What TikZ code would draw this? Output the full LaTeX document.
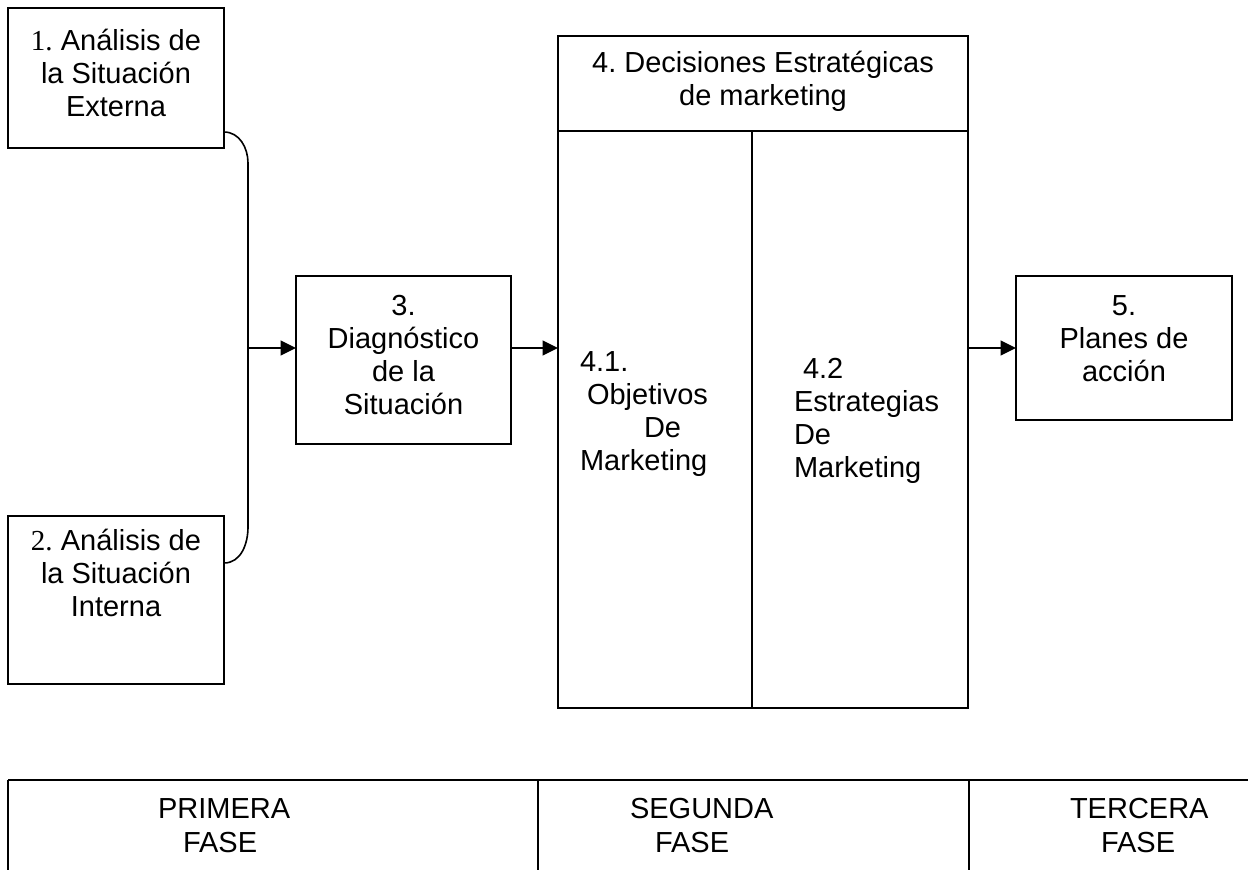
\documentclass[tikz,border=0pt]{standalone}
\usepackage{fontspec}
\setmainfont{Liberation Sans}
\newfontfamily\tnr{Liberation Serif}
\usetikzlibrary{arrows.meta}
\newcommand\fstr{\rule{0pt}{22.5pt}}
\begin{document}
\begin{tikzpicture}[x=0.75pt,y=-0.75pt,
  box/.style={draw, line width=1.2pt, rectangle, inner sep=0pt, outer sep=0pt},
  txt/.style={inner sep=0pt, outer sep=0pt, font=\fontsize{21.75pt}{24.75pt}\selectfont\frenchspacing},
  ctr/.style={txt, anchor=north, align=center},
  lft/.style={txt, anchor=north west, align=left},
  phase/.style={lft, font=\fontsize{21.75pt}{25.5pt}\selectfont},
  conn/.style={line width=1.2pt},
  arr/.style={conn, -{Triangle[length=11.5pt,width=11pt]}}]
\useasboundingbox (0,0) rectangle (1248,870);

% boxes
\node[box, minimum width=162pt, minimum height=105pt] (b1) at (116,78) {};
\node[box, minimum width=162pt, minimum height=126pt] (b2) at (116,600) {};
\node[box, minimum width=161.25pt, minimum height=126pt] (b3) at (403.5,360) {};
\node[box, minimum width=307.5pt, minimum height=71.25pt] (b4h) at (763,83.5) {};
\node[box, minimum width=145.5pt, minimum height=432.75pt] (b41) at (655,419.5) {};
\node[box, minimum width=162pt, minimum height=432.75pt] (b42) at (860,419.5) {};
\node[box, minimum width=162pt, minimum height=108pt] (b5) at (1124,348) {};

% texts
\node[ctr] (t1) at (116,21) {\fstr{\tnr 1.} Análisis de\\la Situación\\Externa};
\node[ctr] (t2) at (116,520) {\fstr{\tnr 2.} Análisis de\\la Situación\\Interna};
\node[ctr] (t3) at (403.5,285) {\fstr 3.\\Diagnóstico\\de la\\Situación};
\node[ctr] (t4) at (763,43) {\fstr 4. Decisiones Estratégicas\\de marketing};
\node[lft] (t41) at (580,341) {\fstr 4.1.\\\hspace*{5.25pt}Objetivos\\\hspace*{48pt}De\\Marketing};
\node[lft] (t42) at (794,348) {\fstr\hspace*{6.75pt}4.2\\Estrategias\\De\\Marketing};
\node[ctr] (t5) at (1124,285) {\fstr 5.\\Planes de\\acción};

% connectors
\coordinate (c1) at (0,132);
\coordinate (c2) at (0,563);
\coordinate (jt) at (248,163);
\coordinate (jb) at (248,527);
\coordinate (jn) at (248,348);
\draw[conn] (b1.east |- c1) to[out=0,in=90] (jt) -- (jb) to[out=-90,in=0] (b2.east |- c2);
\draw[arr] (jn) -- (jn -| b3.west);
\draw[arr] (jn -| b3.east) -- (jn -| b41.west);
\draw[arr] (jn -| b42.east) -- (jn -| b5.west);

% phases table
\draw[line width=1.6pt] (8,780) -- (1248,780);
\draw[conn] (8,780) -- (8,870);
\draw[conn] (538,780) -- (538,870);
\draw[conn] (969,780) -- (969,870);
\node[phase] (p1) at (158,788) {\fstr PRIMERA\\\hspace*{18.75pt}FASE};
\node[phase] (p2) at (630,788) {\fstr SEGUNDA\\\hspace*{18.75pt}FASE};
\node[phase] (p3) at (1070,788) {\fstr TERCERA\\\hspace*{23.25pt}FASE};
\end{tikzpicture}
\end{document}
